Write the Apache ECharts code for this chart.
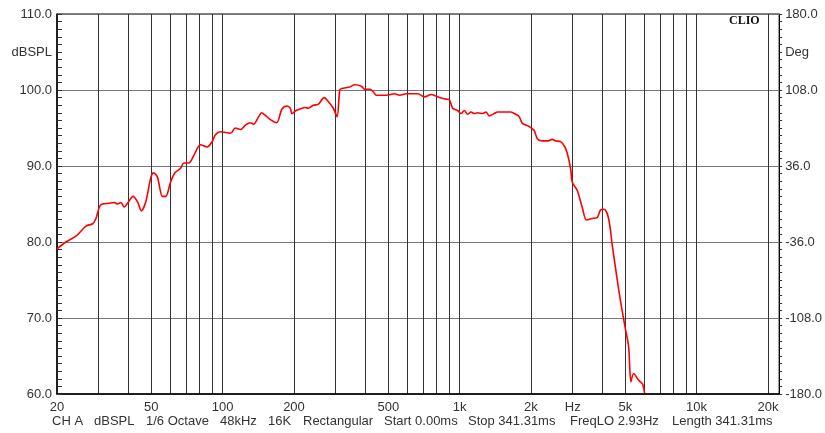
<!DOCTYPE html>
<html>
<head>
<meta charset="utf-8">
<script src="https://cdn.jsdelivr.net/npm/echarts@6/dist/echarts.min.js"></script>
<style>
html, body { margin: 0; padding: 0; background: #fff; }
#chart { width: 825px; height: 433px; }
</style>
</head>
<body>
<div id="chart"></div>
<script>
// frequency response (Hz / dBSPL)
var freqs = [20, 21.8, 24.1, 26.5, 28.3, 29.2, 30.6, 33.2, 34.9, 36.0, 37.2, 38.4, 39.7, 41.9, 43.7, 45.4, 47.4, 49.7,
    51.0, 53.0, 55.7, 57.5, 60.3, 62.9, 66.4, 68.6, 72.0, 75.6, 80.6, 86.0, 90.3, 93.2, 97.8, 108, 113, 119, 125, 131,
    135, 142, 146, 151, 159, 169, 178, 187, 193, 196, 204, 212, 223, 230, 241, 253, 268, 279, 293, 304, 312, 318, 344,
    361, 385, 398, 418, 431, 446, 491, 532, 558, 596, 666, 711, 759, 822, 877, 906, 935, 981, 1014, 1047, 1081, 1117,
    1153, 1191, 1250, 1292, 1333, 1400, 1445, 1542, 1645, 1727, 1783, 1841, 1963, 2061, 2128, 2234, 2345, 2461, 2542,
    2669, 2782, 2844, 2939, 2986, 3133, 3289, 3432, 3622, 3802, 3930, 4056, 4188, 4287, 4370, 4396, 4543, 4692, 4842,
    5004, 5167, 5283, 5422, 5691, 5916, 6031];
var spl = [79.1, 80.0, 80.8, 82.1, 82.4, 83.1, 84.9, 85.1, 85.2, 85.0, 85.2, 84.6, 85.1, 86.0, 85.3, 84.1, 85.3, 88.4,
    89.1, 88.6, 86.0, 86.0, 87.9, 89.1, 89.7, 90.4, 90.4, 91.4, 92.8, 92.5, 93.2, 94.1, 94.5, 94.3, 95.0, 94.8, 95.4, 95.7,
    95.5, 96.5, 97.0, 96.7, 96.1, 95.7, 97.5, 97.9, 97.6, 96.9, 97.3, 97.5, 97.7, 97.6, 98.0, 98.1, 99.0, 98.5, 97.6, 96.5,
    100.0, 100.2, 100.4, 100.7, 100.5, 100.1, 100.1, 99.8, 99.3, 99.3, 99.5, 99.3, 99.5, 99.5, 99.1, 99.4, 99.0, 98.8,
    98.7, 97.6, 97.3, 96.9, 97.3, 96.8, 97.1, 96.9, 97.0, 96.9, 97.1, 96.6, 96.9, 97.1, 97.1, 97.1, 96.8, 96.5, 95.6, 95.2,
    94.7, 93.6, 93.3, 93.3, 93.5, 93.3, 93.2, 92.5, 91.7, 89.7, 87.9, 86.8, 84.6, 82.9, 83.1, 83.2, 84.2, 84.3, 83.8, 82.5,
    80.5, 79.8, 76.7, 73.7, 71.1, 68.6, 66.2, 61.6, 62.7, 61.8, 61.3, 60.1];

var gridFreqs = [30, 40, 50, 60, 70, 80, 90, 100, 200, 300, 400, 500, 600, 700, 800, 900, 1000,
    2000, 3000, 4000, 5000, 6000, 7000, 8000, 9000, 10000, 20000];
var labelFreqs = [20, 50, 100, 200, 500, 1000, 2000, 3000, 5000, 10000, 20000];
var splLabels = [60, 70, 80, 90, 100, 105, 110];
var degLabels = [-180, -108, -36, 36, 108, 144, 180];

var infoTexts = ['CH A', 'dBSPL', '1/6 Octave', '48kHz', '16K', 'Rectangular', 'Start 0.00ms',
    'Stop 341.31ms', 'FreqLO 2.93Hz', 'Length 341.31ms'];
var infoX = [52, 94, 146, 220, 268, 303, 384, 468, 570, 672];

var seriesData = [];
freqs.forEach(function (f, i) {
    seriesData.push([f, spl[i]]);
});

var font = '"Liberation Sans", Arial, sans-serif';
var txt = '#333';

var myChart = echarts.init(document.getElementById('chart'));

var graphics = [{
    type: 'text',
    left: 729,
    top: 15,
    style: { text: 'CLIO', font: 'bold 12px "Liberation Serif", serif', fill: '#111' }
}];
infoTexts.forEach(function (t, i) {
    graphics.push({
        type: 'text',
        left: infoX[i],
        top: 415,
        style: { text: t, font: '13px ' + font, fill: txt }
    });
});

var option = {
    backgroundColor: '#fff',
    animation: false,
    grid: {
        left: 57, right: 44, top: 14, bottom: 39,
        show: true, borderColor: '#000', borderWidth: 1
    },
    xAxis: {
        type: 'log',
        logBase: 10,
        min: 20,
        max: 22300,
        axisLine: { show: true, onZero: false, lineStyle: { color: '#000', width: 1.5 } },
        axisTick: { show: false, customValues: gridFreqs },
        axisLabel: {
            customValues: labelFreqs,
            margin: 7,
            color: txt,
            fontSize: 13,
            fontFamily: font,
            formatter: function (v) {
                if (v === 3000) return 'Hz';
                if (v >= 1000) return (v / 1000) + 'k';
                return String(v);
            }
        },
        splitLine: { show: true, lineStyle: { color: '#333', width: 1 } }
    },
    yAxis: [{
        type: 'value',
        min: 60,
        max: 110,
        interval: 10,
        axisLine: { show: true, lineStyle: { color: '#000', width: 1.5 } },
        axisTick: { show: true, inside: true, length: 5, lineStyle: { color: '#333' } },
        minorTick: { show: true, splitNumber: 10, length: 5, lineStyle: { color: '#333' } },
        axisLabel: {
            customValues: splLabels,
            margin: 5,
            color: txt,
            fontSize: 13,
            fontFamily: font,
            formatter: function (v) {
                return v === 105 ? 'dBSPL' : v.toFixed(1);
            }
        },
        splitLine: { show: true, lineStyle: { color: '#777', width: 1 } }
    }, {
        type: 'value',
        position: 'right',
        min: -180,
        max: 180,
        interval: 72,
        axisLine: { show: true, lineStyle: { color: '#000', width: 1 } },
        axisTick: { show: true, length: 3, lineStyle: { color: '#333' } },
        minorTick: { show: true, splitNumber: 10, length: 3, lineStyle: { color: '#333' } },
        axisLabel: {
            customValues: degLabels,
            margin: 6,
            color: txt,
            fontSize: 13,
            fontFamily: font,
            formatter: function (v) {
                return v === 144 ? 'Deg' : v.toFixed(1);
            }
        },
        splitLine: { show: false }
    }],
    series: [{
        type: 'line',
        yAxisIndex: 0,
        data: seriesData,
        showSymbol: false,
        smooth: 0.3,
        lineStyle: { color: '#ff0000', width: 1.6 },
        z: 5
    }],
    graphic: graphics
};

myChart.setOption(option);
</script>
</body>
</html>
